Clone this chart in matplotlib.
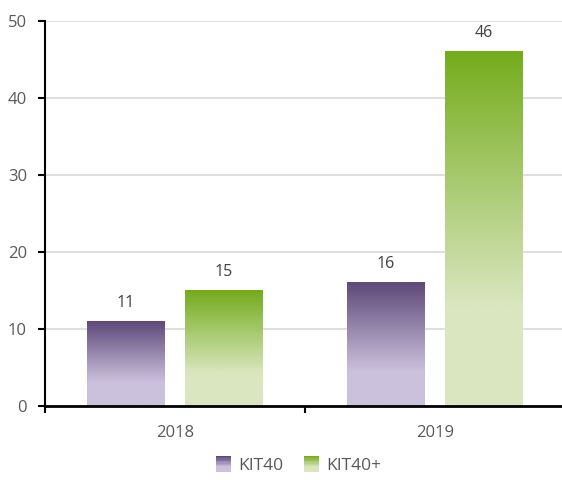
import matplotlib
matplotlib.use("Agg")
import matplotlib.pyplot as plt
import numpy as np
from matplotlib.colors import to_rgb
from matplotlib.legend_handler import HandlerBase
from matplotlib.patches import Rectangle

years = ["2018", "2019"]
kit40 = [11, 16]
kit40plus = [15, 46]
series_names = ["KIT40", "KIT40+"]

purple = ("#5e4979", "#cbc1dc")
green = ("#74ac1c", "#dae6c0")

plt.rcParams['font.family'] = ['Open Sans', 'DejaVu Sans']


def grad_array(top, bottom, n=200):
    t = np.linspace(0, 1, n)  # 0 at top
    t = np.clip(t / 0.72, 0, 1)
    a, b = np.array(to_rgb(top)), np.array(to_rgb(bottom))
    arr = a[None, :] * (1 - t[:, None]) + b[None, :] * t[:, None]
    return arr[:, None, :]


def gradient_bar(ax, x, w, h, cols):
    ax.imshow(grad_array(*cols), extent=(x - w / 2, x + w / 2, 0, h),
              aspect='auto', origin='upper', zorder=3, interpolation='bilinear')


class GradHandler(HandlerBase):
    def __init__(self, cols):
        super().__init__()
        self.cols = cols

    def create_artists(self, legend, orig, xd, yd, width, height, fontsize, trans):
        arr = grad_array(*self.cols, n=12)
        s = 11
        x0 = xd + width - s
        y0 = yd + (height - s) / 2
        arts = []
        for i in range(12):
            r = Rectangle((x0, y0 + s * (11 - i) / 12), s, s / 12 + 0.3,
                          facecolor=arr[i, 0], edgecolor='none', transform=trans)
            arts.append(r)
        return arts


fig = plt.figure(figsize=(5.62, 4.8), dpi=100)
ax = fig.add_axes([45 / 562, 74 / 480, 517 / 562, 385 / 480])

x = np.arange(len(years))
w = 0.3
off = 0.188
for i in range(len(years)):
    gradient_bar(ax, x[i] - off, w, kit40[i], purple)
    gradient_bar(ax, x[i] + off, w, kit40plus[i], green)
    ax.text(x[i] - off, kit40[i] + 2.4, str(kit40[i]), ha='center', va='center',
            fontsize=11.5, color='#404040')
    ax.text(x[i] + off, kit40plus[i] + 2.4, str(kit40plus[i]), ha='center', va='center',
            fontsize=11.5, color='#404040')

ax.set_xlim(-0.5, 1.49)
ax.set_ylim(0, 50)
ax.set_yticks(range(0, 51, 10))
ax.yaxis.grid(True, color='#d9d9d9', linewidth=1.2, zorder=0)
ax.set_axisbelow(True)

ax.set_xticks(x)
ax.set_xticklabels(years)
ax.set_xticks([-0.5, 0.5], minor=True)
ax.tick_params(axis='x', which='major', length=0, pad=14, labelsize=12, labelcolor='#595959')
ax.tick_params(axis='x', which='minor', length=5, width=1.5, color='black')
ax.tick_params(axis='y', length=5, width=1.5, color='black', labelsize=12,
               labelcolor='#595959', pad=8)

for s in ['top', 'right']:
    ax.spines[s].set_visible(False)
ax.spines['left'].set_linewidth(1.5)
ax.spines['bottom'].set_linewidth(2)
ax.spines['left'].set_zorder(4)
ax.spines['bottom'].set_zorder(4)

h1 = Rectangle((0, 0), 1, 1)
h2 = Rectangle((0, 0), 1, 1)
fig.legend([h1, h2], series_names, loc='center', bbox_to_anchor=(300 / 562, 14 / 480),
           ncol=2, frameon=False, fontsize=12.5, labelcolor='#595959',
           handler_map={h1: GradHandler(purple), h2: GradHandler(green)},
           handlelength=0.7, handletextpad=0.4, columnspacing=1.4)

fig.savefig("out.png", dpi=100)
